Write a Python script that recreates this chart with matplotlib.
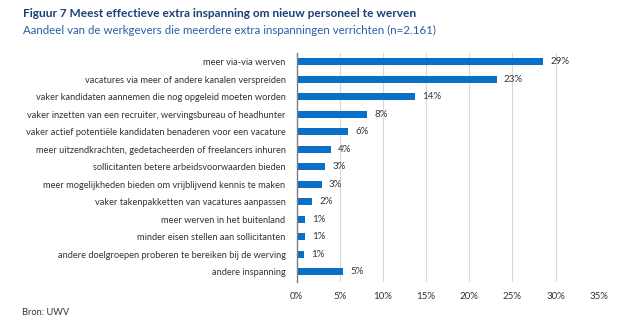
import matplotlib
matplotlib.use("Agg")
import matplotlib.pyplot as plt

plt.rcParams['font.family'] = ['Lato', 'DejaVu Sans']

categories = [
    "meer via-via werven",
    "vacatures via meer of andere kanalen verspreiden",
    "vaker kandidaten aannemen die nog opgeleid moeten worden",
    "vaker inzetten van een recruiter, wervingsbureau of headhunter",
    "vaker actief potentiële kandidaten benaderen voor een vacature",
    "meer uitzendkrachten, gedetacheerden of freelancers inhuren",
    "sollicitanten betere arbeidsvoorwaarden bieden",
    "meer mogelijkheden bieden om vrijblijvend kennis te maken",
    "vaker takenpakketten van vacatures aanpassen",
    "meer werven in het buitenland",
    "minder eisen stellen aan sollicitanten",
    "andere doelgroepen proberen te bereiken bij de werving",
    "andere inspanning",
]
values = [28.6, 23.2, 13.7, 8.2, 6.0, 4.0, 3.3, 2.9, 1.8, 1.0, 1.0, 0.9, 5.4]
xticks = [0, 5, 10, 15, 20, 25, 30, 35]

bar_color = "#0a6fc6"
text_color = "#333333"

fig = plt.figure(figsize=(6.4, 3.3), dpi=100)
ax = fig.add_axes([0.4636, 0.1455, 0.4719, 0.6939])

ypos = range(len(categories))
ax.barh(ypos, values, height=0.4, color=bar_color, zorder=3)
for y, v in zip(ypos, values):
    ax.text(v + 0.8, y, f"{v:.0f}%", va="center", ha="left",
            fontsize=7, color=text_color)

ax.set_xlim(0, 35)
ax.set_ylim(12.6, -0.5)
ax.set_xticks(xticks)
ax.set_xticklabels([f"{t}%" for t in xticks], fontsize=7, color=text_color)
ax.set_yticks(list(ypos))
ax.set_yticklabels(categories, fontsize=6.7, color=text_color)
ax.tick_params(axis="x", length=0, pad=7)
ax.tick_params(axis="y", length=0, pad=8)
ax.xaxis.grid(True, color="#d9d9d9", linewidth=0.8, zorder=0)
for side in ["top", "right", "bottom"]:
    ax.spines[side].set_visible(False)
ax.spines["left"].set_color("#7f7f7f")
ax.spines["left"].set_linewidth(1.0)
ax.spines["left"].set_zorder(4)

fig.text(0.036, 0.96, "Figuur 7 Meest effectieve extra inspanning om nieuw personeel te werven",
         fontsize=8.6, fontweight="bold", color="#1b3f77", va="center")
fig.text(0.036, 0.908, "Aandeel van de werkgevers die meerdere extra inspanningen verrichten (n=2.161)",
         fontsize=8.3, color="#2a5ea6", va="center")
fig.text(0.035, 0.052, "Bron: UWV", fontsize=6.7, color=text_color, va="center")

fig.savefig("out.png", dpi=100)
